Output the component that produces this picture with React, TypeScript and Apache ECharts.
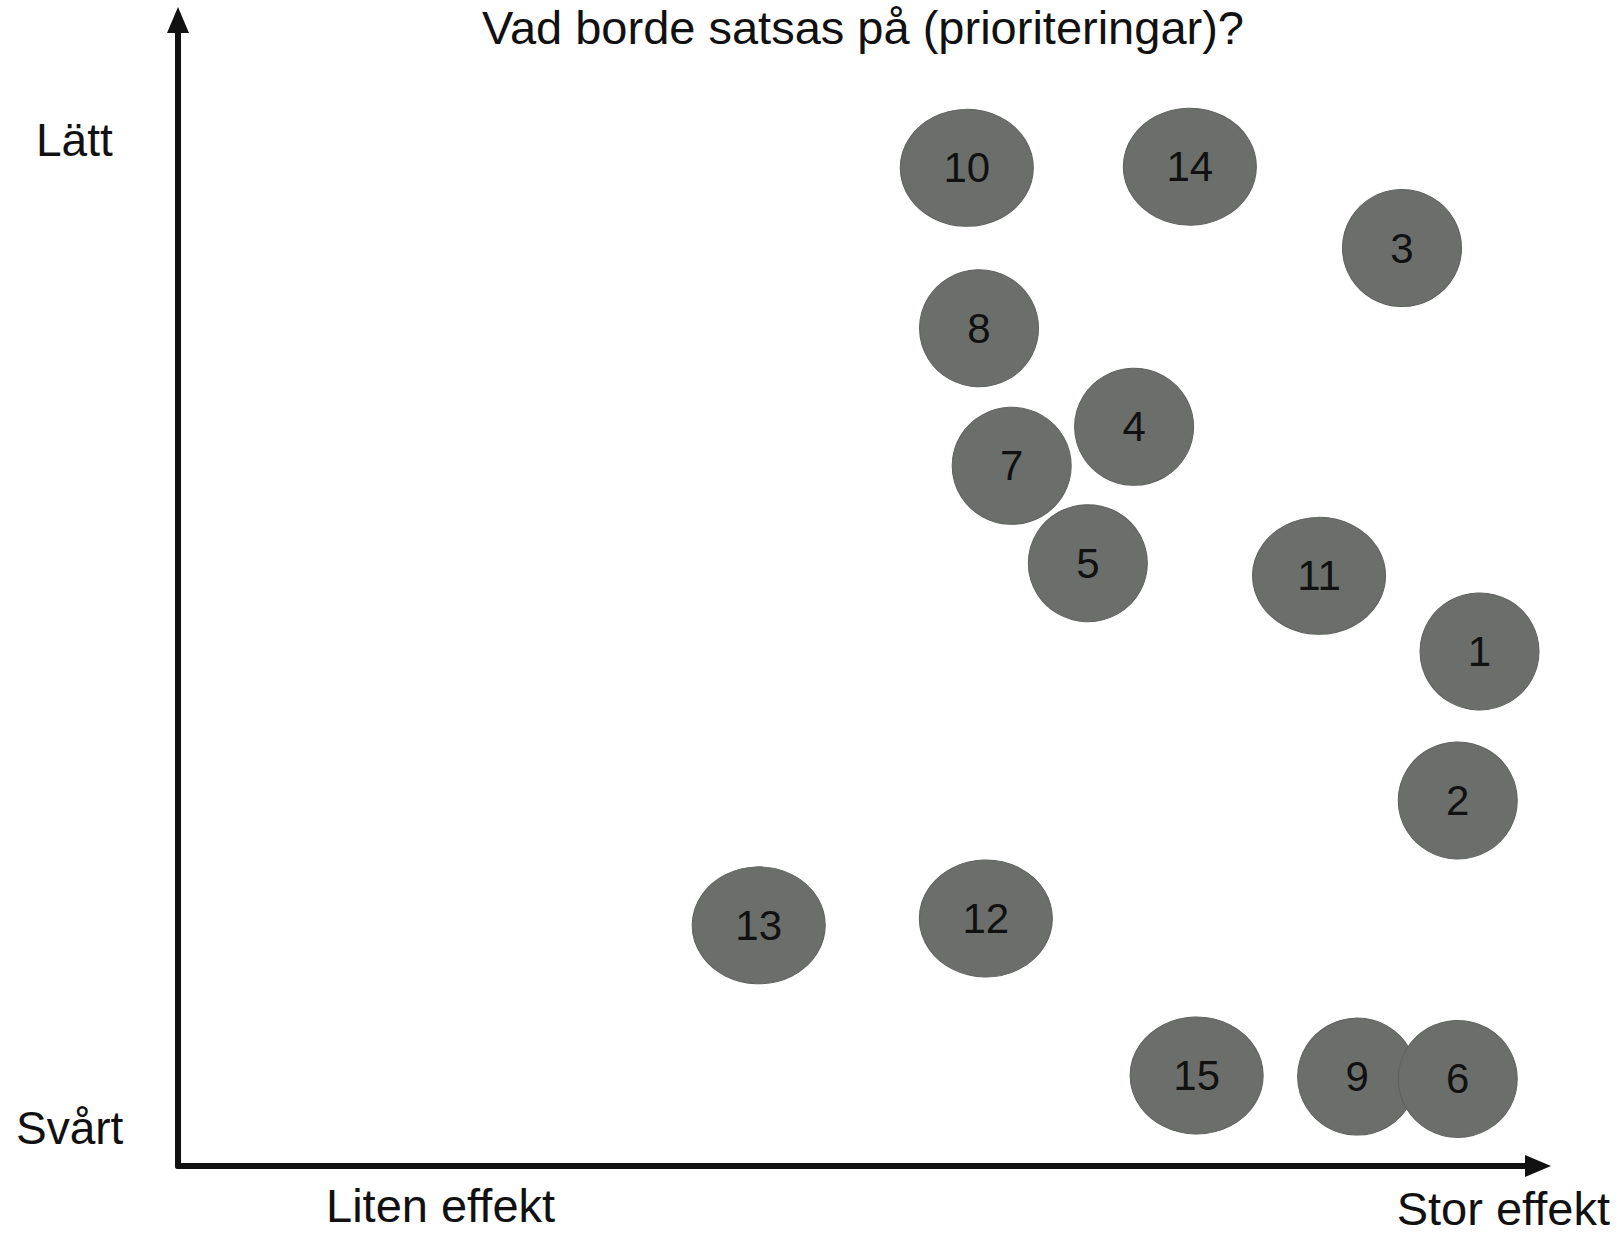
import React, { useEffect, useRef } from "react";
import * as echarts from "echarts";

// Bubble labels (in drawing order), effect (x) and ease (y) on a 0–10 scale
const labels = ["10", "14", "3", "8", "4", "7", "5", "11", "1", "2", "13", "12", "15", "9", "6"];
const effect = [5.8, 7.44, 9.0, 5.89, 7.03, 6.13, 6.69, 8.39, 9.57, 9.41, 4.27, 5.94, 7.49, 8.67, 9.41];
const ease = [8.71, 8.72, 8.01, 7.31, 6.45, 6.11, 5.26, 5.15, 4.49, 3.19, 2.1, 2.16, 0.79, 0.78, 0.76];

const title = "Vad borde satsas på (prioriteringar)?";
const yTopLabel = "Lätt";
const yBottomLabel = "Svårt";
const xLeftLabel = "Liten effekt";
const xRightLabel = "Stor effekt";

const FONT = "'Liberation Sans', Arial, Helvetica, sans-serif";

export default function App() {
  const ref = useRef<HTMLDivElement>(null);

  useEffect(() => {
    if (!ref.current) return;
    const chart = echarts.init(ref.current, undefined, { renderer: "svg" });
    const data = labels.map((l, i) => [effect[i], ease[i], l]);

    const axisCommon = {
      type: "value" as const,
      min: 0,
      max: 10,
      axisLine: {
        show: true,
        onZero: false,
        lineStyle: { color: "#111", width: 6 },
        symbol: ["none", "triangle"],
        symbolSize: [22, 26],
        symbolOffset: [0, 0],
      },
      axisTick: { show: false },
      axisLabel: { show: false },
      splitLine: { show: false },
    };

    const txt = (text: string, x: number, y: number, align: string, size = 46) => ({
      type: "text",
      x,
      y,
      silent: true,
      style: {
        text,
        fill: "#111",
        fontSize: size,
        fontFamily: FONT,
        align,
        verticalAlign: "middle",
      },
    });

    chart.setOption({
      animation: false,
      backgroundColor: "#ffffff",
      grid: { left: 178, top: 20, right: 86, bottom: 68, containLabel: false },
      xAxis: axisCommon,
      yAxis: axisCommon,
      series: [
        {
          type: "scatter",
          data,
          symbol: "circle",
          symbolSize: (val: any) => (String(val[2]).length > 1 ? [133, 117] : [119, 117]),
          itemStyle: { color: "#6b6e6b", borderColor: "#5f625f", borderWidth: 1, opacity: 1 },
          label: {
            show: true,
            position: "inside",
            formatter: (p: any) => p.value[2],
            color: "#111",
            fontSize: 42,
            fontFamily: FONT,
          },
          emphasis: { disabled: true },
        },
      ],
      graphic: [
        txt(title, 863, 27, "center", 47),
        txt(yTopLabel, 36, 140, "left"),
        txt(yBottomLabel, 16, 1128, "left"),
        txt(xLeftLabel, 326, 1205, "left", 47),
        txt(xRightLabel, 1610, 1208, "right", 47),
      ],
    });
    return () => chart.dispose();
  }, []);

  return (
    <div
      ref={ref}
      style={{ position: "fixed", left: 0, top: 0, width: 1624, height: 1234, background: "#fff" }}
    />
  );
}
